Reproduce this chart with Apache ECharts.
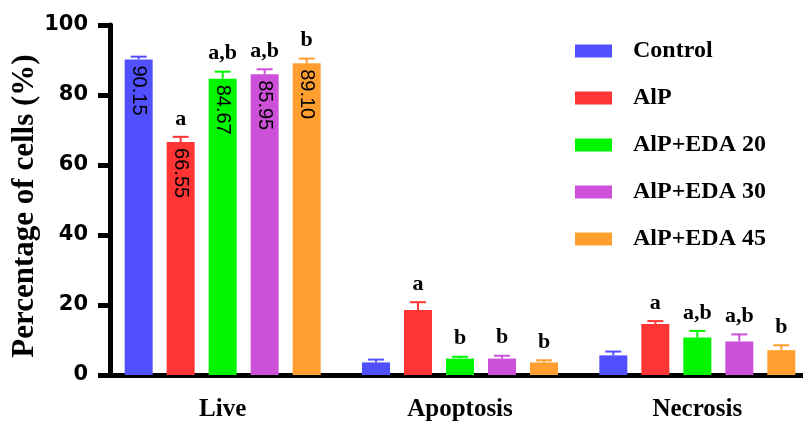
<!DOCTYPE html>
<html>
<head>
<meta charset="utf-8">
<script src="https://cdn.jsdelivr.net/npm/echarts@6/dist/echarts.min.js"></script>
<style>html,body{margin:0;padding:0;background:#fff}#c{width:803px;height:421px}</style>
</head>
<body>
<div id="c"></div>
<script>
var categories = ['Live', 'Apoptosis', 'Necrosis'];
var seriesNames = ['Control', 'AlP', 'AlP+EDA 20', 'AlP+EDA 30', 'AlP+EDA 45'];
var colors = ['#5050FF', '#FF3535', '#00F500', '#CC50D8', '#FF9F30'];
var controlVals = [90.15, 3.6, 5.6];
var alpVals = [66.55, 18.6, 14.6];
var eda20Vals = [84.67, 4.7, 10.7];
var eda30Vals = [85.95, 4.7, 9.6];
var eda45Vals = [89.10, 3.6, 7.1];
var controlErr = [0.8, 0.8, 1.1];
var alpErr = [1.5, 2.2, 0.8];
var eda20Err = [2.0, 0.5, 1.9];
var eda30Err = [1.4, 0.8, 2.0];
var eda45Err = [1.3, 0.6, 1.4];
var controlSig = ['', '', ''];
var alpSig = ['a', 'a', 'a'];
var eda20Sig = ['a,b', 'b', 'a,b'];
var eda30Sig = ['a,b', 'b', 'a,b'];
var eda45Sig = ['b', 'b', 'b'];
var yTicks = [0, 20, 40, 60, 80, 100];

var values = [controlVals, alpVals, eda20Vals, eda30Vals, eda45Vals];
var errs = [controlErr, alpErr, eda20Err, eda30Err, eda45Err];
var sigs = [controlSig, alpSig, eda20Sig, eda30Sig, eda45Sig];

var BAR_W = 28, BAR_GAP = 14;
var chart = echarts.init(document.getElementById('c'));
var series = [];
values.forEach(function (vals, i) {
  series.push({
    name: seriesNames[i],
    type: 'bar',
    barWidth: BAR_W,
    barGap: '50%',
    itemStyle: { color: colors[i] },
    z: 2,
    data: vals.map(function (v, j) {
      return {
        value: v,
        label: {
          show: j === 0,
          position: 'insideTop',
          distance: 6,
          rotate: -90,
          align: 'left',
          verticalAlign: 'middle',
          fontFamily: 'Liberation Sans',
          fontSize: 20,
          color: '#000',
          formatter: function (p) { return p.value.toFixed(2); }
        }
      };
    })
  });
});
values.forEach(function (vals, i) {
  series.push({
    name: seriesNames[i] + ' err',
    type: 'custom',
    z: 3,
    silent: true,
    renderItem: function (params, api) {
      var j = api.value(0);
      var v = api.value(1);
      var e = api.value(2);
      var off = (i - 2) * (BAR_W + BAR_GAP);
      var p0 = api.coord([j, v]);
      var p1 = api.coord([j, v + e]);
      var x = p0[0] + off;
      var children = [
        { type: 'line', shape: { x1: x, y1: p0[1], x2: x, y2: p1[1] }, style: { stroke: colors[i], lineWidth: 2 } },
        { type: 'line', shape: { x1: x - 8, y1: p1[1], x2: x + 8, y2: p1[1] }, style: { stroke: colors[i], lineWidth: 2 } }
      ];
      var s = sigs[i][j];
      if (s) {
        children.push({
          type: 'text',
          x: x, y: p1[1] - 7,
          style: { text: s, fontFamily: 'Liberation Serif', fontWeight: 'bold', fontSize: 22, fill: '#000', align: 'center', verticalAlign: 'bottom' }
        });
      }
      return { type: 'group', children: children };
    },
    data: vals.map(function (v, j) { return [j, v, errs[i][j]]; })
  });
});

chart.setOption({
  animation: false,
  grid: { left: 104, right: -13, top: 25, bottom: 46, outerBoundsMode: 'none', containLabel: false },
  legend: {
    data: seriesNames,
    orient: 'vertical',
    left: 575,
    top: 39,
    padding: 0,
    itemWidth: 37,
    itemHeight: 13,
    itemGap: 23,
    icon: 'rect',
    textStyle: { fontFamily: 'Liberation Serif', fontWeight: 'bold', fontSize: 24, color: '#000', padding: [0, 0, 0, 16] }
  },
  xAxis: {
    type: 'category',
    data: categories,
    axisLine: { lineStyle: { color: '#000', width: 5 } },
    axisTick: { alignWithLabel: true, length: 15, lineStyle: { color: '#000', width: 5 } },
    axisLabel: { margin: 22, fontFamily: 'Liberation Serif', fontWeight: 'bold', fontSize: 25, color: '#000' }
  },
  yAxis: {
    type: 'value',
    min: 0, max: 100, interval: 20,
    offset: -6,
    name: 'Percentage of cells (%)',
    nameLocation: 'middle',
    nameGap: 70,
    nameMoveOverlap: false,
    nameRotate: 90,
    nameTextStyle: { fontFamily: 'Liberation Serif', fontWeight: 'bold', fontSize: 31, color: '#000', padding: [0, 12, 0, 0] },
    axisLine: { show: true, lineStyle: { color: '#000', width: 5 } },
    axisTick: { show: true, length: 12, lineStyle: { color: '#000', width: 5 } },
    splitLine: { show: false },
    axisLabel: {
      margin: 22, fontFamily: 'DejaVu Sans', fontWeight: 'bold', fontSize: 21, color: '#000',
      formatter: function (v) { return yTicks.indexOf(v) >= 0 ? String(v) : ''; }
    }
  },
  series: series
});
</script>
</body>
</html>
